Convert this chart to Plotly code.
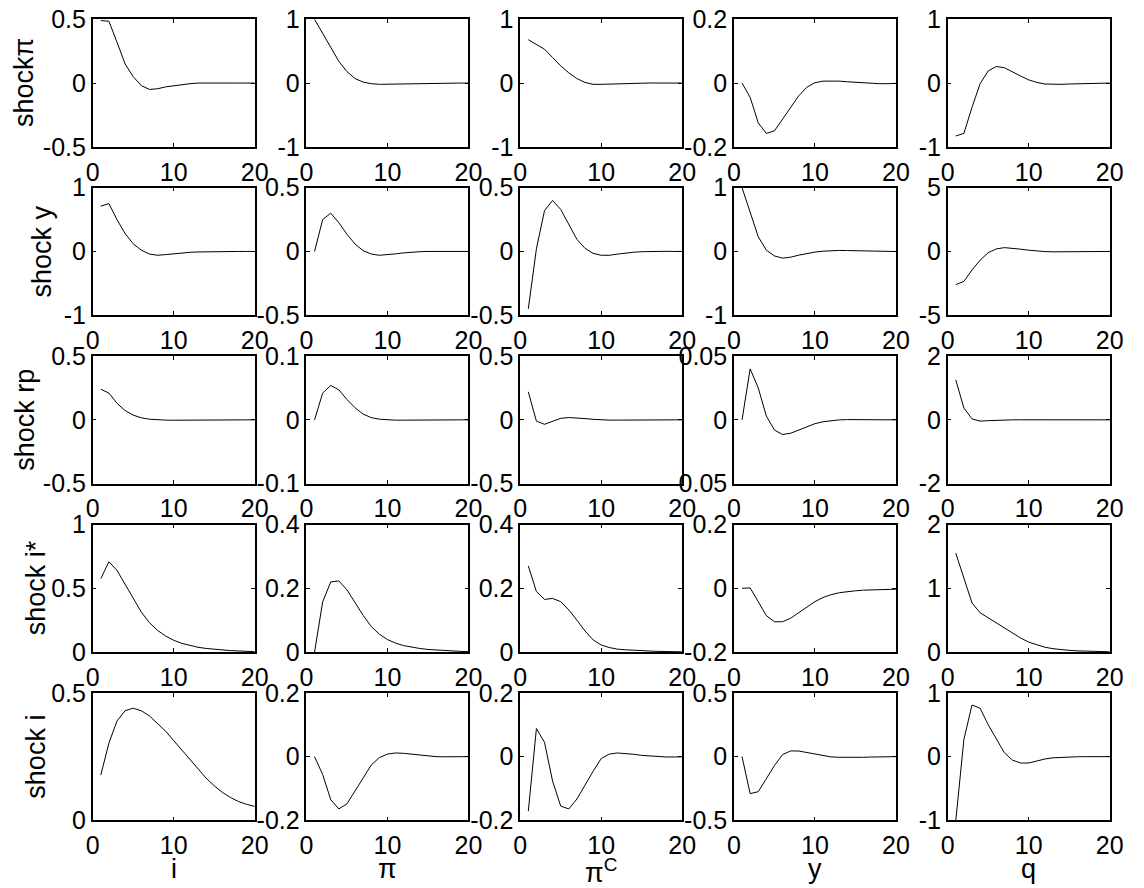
import plotly.graph_objects as go

periods = list(range(1, 21))

row_labels = ["shockπ", "shock y", "shock rp", "shock i*", "shock i"]
col_labels = ["i", "π", "π<sup>C</sup>", "y", "q"]
x_ticks = [0, 10, 20]

# shock pi
pi_i = [0.49, 0.485, 0.32, 0.15, 0.05, -0.02, -0.05, -0.045, -0.03, -0.02, -0.012, -0.005, 0.0, 0.001, 0.001, 0.0005, 0, 0, 0, 0]
pi_pi = [1.0, 0.78, 0.54, 0.34, 0.18, 0.07, 0.015, -0.01, -0.02, -0.018, -0.012, -0.006, -0.002, 0, 0.001, 0.001, 0, 0, 0, 0]
pi_pic = [0.68, 0.61, 0.53, 0.4, 0.27, 0.16, 0.07, 0.01, -0.02, -0.02, -0.015, -0.01, -0.005, -0.002, 0, 0.001, 0, 0, 0, 0]
pi_y = [0, -0.045, -0.125, -0.158, -0.15, -0.113, -0.074, -0.04, -0.013, 0.001, 0.006, 0.007, 0.006, 0.004, 0.002, 0.0, -0.001, -0.002, -0.002, -0.001]
pi_q = [-0.83, -0.79, -0.38, -0.01, 0.19, 0.26, 0.24, 0.17, 0.11, 0.05, 0.01, -0.015, -0.02, -0.02, -0.015, -0.01, -0.005, 0, 0, 0]

# shock y
y_i = [0.71, 0.75, 0.5, 0.28, 0.12, 0.02, -0.04, -0.06, -0.05, -0.035, -0.022, -0.014, -0.008, -0.004, -0.001, 0, 0, 0, 0, 0]
y_pi = [0, 0.25, 0.3, 0.225, 0.135, 0.058, 0.006, -0.02, -0.03, -0.027, -0.019, -0.011, -0.005, -0.002, 0, 0.001, 0.001, 0, 0, 0]
y_pic = [-0.45, 0.02, 0.32, 0.4, 0.33, 0.21, 0.095, 0.024, -0.015, -0.03, -0.03, -0.021, -0.012, -0.006, -0.002, 0, 0.001, 0.001, 0, 0]
y_y = [1.0, 0.6, 0.23, 0.02, -0.07, -0.105, -0.09, -0.058, -0.03, -0.01, 0.004, 0.013, 0.016, 0.014, 0.01, 0.005, 0.002, 0, -0.001, -0.001]
y_q = [-2.6, -2.35, -1.45, -0.68, -0.1, 0.2, 0.3, 0.26, 0.18, 0.1, 0.03, -0.01, -0.03, -0.03, -0.02, -0.01, -0.005, 0, 0, 0]

# shock rp
rp_i = [0.24, 0.21, 0.13, 0.073, 0.037, 0.016, 0.005, 0.0, -0.002, -0.003, -0.002, -0.001, 0, 0, 0, 0, 0, 0, 0, 0]
rp_pi = [0, 0.042, 0.054, 0.047, 0.032, 0.019, 0.009, 0.0035, 0.001, 0, -0.0005, -0.0005, -0.0003, 0, 0, 0, 0, 0, 0, 0]
rp_pic = [0.22, -0.01, -0.035, -0.01, 0.012, 0.018, 0.016, 0.01, 0.004, 0, -0.002, -0.002, -0.001, 0, 0, 0, 0, 0, 0, 0]
rp_y = [0, 0.04, 0.025, 0.003, -0.008, -0.0115, -0.0105, -0.008, -0.0052, -0.003, -0.0015, -0.0005, 0, 0.0002, 0.0002, 0.0001, 0, 0, 0, 0]
rp_q = [1.25, 0.37, 0.03, -0.04, -0.025, -0.012, -0.004, 0.0, 0.002, 0.002, 0.001, 0, 0, 0, 0, 0, 0, 0, 0, 0]

# shock i*
istar_i = [0.575, 0.708, 0.64, 0.53, 0.412, 0.313, 0.23, 0.17, 0.125, 0.092, 0.068, 0.05, 0.037, 0.028, 0.021, 0.015, 0.011, 0.008, 0.005, 0.003]
istar_pi = [0, 0.157, 0.22, 0.223, 0.195, 0.153, 0.115, 0.08, 0.056, 0.039, 0.028, 0.02, 0.015, 0.011, 0.008, 0.006, 0.004, 0.003, 0.002, 0.001]
istar_pic = [0.27, 0.19, 0.165, 0.168, 0.158, 0.132, 0.1, 0.066, 0.038, 0.022, 0.014, 0.009, 0.007, 0.005, 0.004, 0.003, 0.002, 0.0015, 0.001, 0.0005]
istar_y = [0, 0.001, -0.042, -0.086, -0.105, -0.105, -0.094, -0.076, -0.058, -0.042, -0.029, -0.02, -0.014, -0.01, -0.008, -0.006, -0.0055, -0.005, -0.004, -0.003]
istar_q = [1.55, 1.16, 0.77, 0.615, 0.535, 0.46, 0.38, 0.295, 0.22, 0.155, 0.11, 0.075, 0.052, 0.036, 0.026, 0.018, 0.013, 0.008, 0.005, 0.003]

# shock i
i_i = [0.178, 0.303, 0.39, 0.43, 0.44, 0.43, 0.41, 0.38, 0.35, 0.313, 0.276, 0.238, 0.2, 0.166, 0.136, 0.11, 0.09, 0.074, 0.063, 0.055]
i_pi = [0, -0.056, -0.135, -0.164, -0.148, -0.109, -0.067, -0.026, -0.003, 0.008, 0.0115, 0.0105, 0.008, 0.005, 0.002, 0, -0.0005, -0.001, -0.0005, 0]
i_pic = [-0.171, 0.088, 0.045, -0.077, -0.155, -0.164, -0.133, -0.088, -0.046, -0.006, 0.008, 0.0115, 0.0105, 0.0075, 0.004, 0.002, 0, -0.001, -0.001, -0.0005]
i_y = [0, -0.29, -0.275, -0.175, -0.07, 0.016, 0.045, 0.044, 0.032, 0.018, 0.007, -0.002, -0.005, -0.007, -0.007, -0.005, -0.003, -0.001, 0, 0]
i_q = [-1.0, 0.27, 0.81, 0.76, 0.5, 0.27, 0.06, -0.055, -0.1, -0.1, -0.065, -0.037, -0.018, -0.01, -0.005, -0.002, 0, 0, 0, 0]

series = [
    [pi_i, pi_pi, pi_pic, pi_y, pi_q],
    [y_i, y_pi, y_pic, y_y, y_q],
    [rp_i, rp_pi, rp_pic, rp_y, rp_q],
    [istar_i, istar_pi, istar_pic, istar_y, istar_q],
    [i_i, i_pi, i_pic, i_y, i_q],
]

y_ticks = [
    [[-0.5, 0, 0.5], [-1, 0, 1], [-1, 0, 1], [-0.2, 0, 0.2], [-1, 0, 1]],
    [[-1, 0, 1], [-0.5, 0, 0.5], [-0.5, 0, 0.5], [-1, 0, 1], [-5, 0, 5]],
    [[-0.5, 0, 0.5], [-0.1, 0, 0.1], [-0.5, 0, 0.5], [-0.05, 0, 0.05], [-2, 0, 2]],
    [[0, 0.5, 1], [0, 0.2, 0.4], [0, 0.2, 0.4], [-0.2, 0, 0.2], [0, 1, 2]],
    [[0, 0.5], [-0.2, 0, 0.2], [-0.2, 0, 0.2], [-0.5, 0, 0.5], [-1, 0, 1]],
]

W, H = 1144, 888
OFF = 8  # page body margin
FONT = "Liberation Sans, Arial, Helvetica, sans-serif"
FS = 25
FS_LAB = 27
col_left0, col_step, col_w = 92.7 - OFF, 213.75, 162.0
row_top0, row_step, row_h = 19.3 - OFF, 168.4, 127.5

fig = go.Figure()
layout = dict(
    template="none",
    width=W, height=H, margin=dict(l=0, r=0, t=0, b=0, pad=0, autoexpand=False),
    paper_bgcolor="white", plot_bgcolor="white", showlegend=False,
    font=dict(family=FONT, size=FS, color="black"),
)
annotations = []

def fmt(v):
    return f"{v:g}"

for r in range(5):
    top = row_top0 + r * row_step
    for c in range(5):
        k = r * 5 + c + 1
        left = col_left0 + c * col_step
        xa = "x" if k == 1 else f"x{k}"
        ya = "y" if k == 1 else f"y{k}"
        fig.add_trace(go.Scatter(
            x=periods, y=series[r][c], mode="lines",
            line=dict(color="black", width=1),
            xaxis=xa, yaxis=ya, hoverinfo="skip",
        ))
        yt = y_ticks[r][c]
        common = dict(
            showline=True, linecolor="black", linewidth=1.5, mirror="allticks",
            ticks="inside", ticklen=4, tickwidth=1, tickcolor="black",
            showgrid=False, zeroline=False, automargin=False,
            ticklabeloverflow="allow",
            tickfont=dict(family=FONT, size=FS, color="black"),
        )
        layout["xaxis" if k == 1 else f"xaxis{k}"] = dict(
            domain=[left / W, (left + col_w) / W], anchor=ya,
            range=[0, 20], tickvals=x_ticks, ticktext=[fmt(v) for v in x_ticks],
            ticklabelstandoff=2,
            **common,
        )
        layout["yaxis" if k == 1 else f"yaxis{k}"] = dict(
            domain=[1 - (top + row_h) / H, 1 - top / H], anchor=xa,
            range=[yt[0], yt[-1]], tickvals=yt, ticktext=[fmt(v) for v in yt],
            **common,
        )

row_label_x = [24, 42, 25, 36, 36]
for r in range(5):
    top = row_top0 + r * row_step
    annotations.append(dict(
        text=row_labels[r], xref="paper", yref="paper",
        x=(row_label_x[r] - OFF) / W, y=1 - (top + row_h / 2) / H,
        xanchor="center", yanchor="middle", textangle=-90, showarrow=False,
        font=dict(family=FONT, size=FS_LAB, color="black"),
    ))
for c in range(5):
    left = col_left0 + c * col_step
    annotations.append(dict(
        text=col_labels[c], xref="paper", yref="paper",
        x=(left + col_w / 2) / W, y=1 - (852 - OFF) / H,
        xanchor="center", yanchor="top", showarrow=False,
        font=dict(family=FONT, size=FS_LAB, color="black"),
    ))

layout["annotations"] = annotations
fig.update_layout(**layout)
fig.write_html("out.html")
